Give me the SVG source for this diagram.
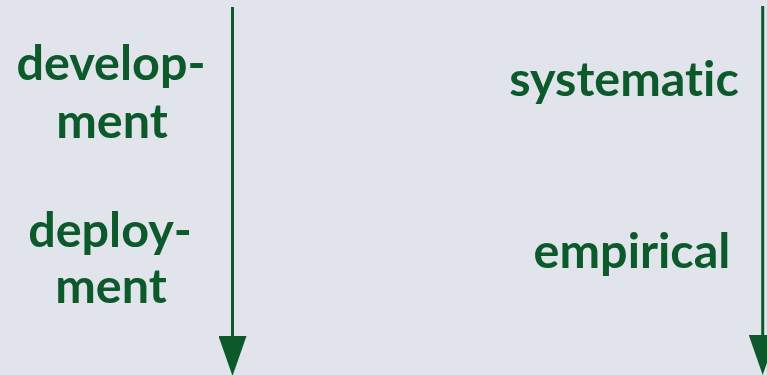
<svg xmlns="http://www.w3.org/2000/svg" width="767" height="375" viewBox="0 0 767 375">
  <style>
    .lbl { font-family: "Lato", "Open Sans", "DejaVu Sans", sans-serif; font-weight: 700; font-size: 48.5px; fill: #0c5a2c; text-anchor: middle; font-variant-ligatures: none; font-feature-settings: "liga" 0; }
    .axis { stroke: #0c5a2c; stroke-width: 3; fill: none; }
  </style>
  <defs>
    <marker id="head" viewBox="0 0 40 28" refX="0" refY="14" markerWidth="40" markerHeight="28" markerUnits="userSpaceOnUse" orient="auto">
      <path d="M0,0 L40,14 L0,28 Z" fill="#0c5a2c"/>
    </marker>
  </defs>
  <rect width="767" height="375" fill="#e1e4eb"/>

  <g id="connectors">
    <line class="axis" x1="232.5" y1="7" x2="232.5" y2="336" marker-end="url(#head)"/>
    <line class="axis" x1="762.7" y1="6" x2="762.7" y2="335" marker-end="url(#head)"/>
  </g>

  <g id="development">
    <text class="lbl" x="111" y="80">develop-</text>
    <text class="lbl" x="112" y="138">ment</text>
  </g>
  <g id="deployment">
    <text class="lbl" x="110" y="247">deploy-</text>
    <text class="lbl" x="111" y="303">ment</text>
  </g>
  <g id="systematic">
    <text class="lbl" x="624" y="96">systematic</text>
  </g>
  <g id="empirical">
    <text class="lbl" x="632" y="268">empirical</text>
  </g>
</svg>
